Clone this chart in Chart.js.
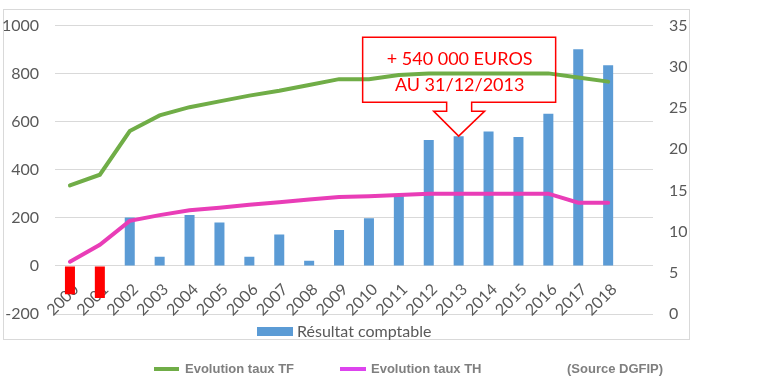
<!DOCTYPE html>
<html>
<head>
<meta charset="utf-8">
<script src="https://cdn.jsdelivr.net/npm/chart.js@4.4.1/dist/chart.umd.min.js"></script>
<style>
  body { margin: 0; background: #fff; }
  #wrap { position: relative; width: 773px; height: 387px; overflow: hidden; }
  #frame { position: absolute; left: 3px; top: 9px; width: 685px; height: 329px; border: 1px solid #d9d9d9; }
  canvas { position: absolute; left: 0; top: 0; }
  .leg { position: absolute; font-family: "Liberation Sans", Arial, sans-serif; font-weight: bold; font-size: 13px; color: #7f7f7f; white-space: nowrap; }
  .sw { position: absolute; height: 4px; }
  #barLeg { position: absolute; left: 257px; top: 327px; width: 36px; height: 9px; background: #5b9bd5; }
  #barTxt { position: absolute; left: 297px; top: 321px; font-family: Lato, sans-serif; font-size: 16px; color: #595959; white-space: nowrap; }
</style>
</head>
<body>
<div id="wrap">
  <div id="frame"></div>
  <canvas id="chart" width="773" height="387"></canvas>
  <div id="barLeg"></div>
  <div id="barTxt">Résultat comptable</div>
  <div class="sw" style="left:154px;top:367px;width:25px;background:#70ad47"></div>
  <div class="leg" style="left:185px;top:361px">Evolution taux TF</div>
  <div class="sw" style="left:340px;top:367px;width:26px;background:#dd44ee"></div>
  <div class="leg" style="left:371px;top:361px">Evolution taux TH</div>
  <div class="leg" style="left:567px;top:361px">(Source DGFIP)</div>
</div>
<script>
'use strict';

// annees (la derniere categorie est vide dans le graphique d'origine)
let years = ['2000', '2001', '2002', '2003', '2004', '2005', '2006', '2007', '2008', '2009',
    '2010', '2011', '2012', '2013', '2014', '2015', '2016', '2017', '2018', ''];

// resultat comptable (milliers d'euros, axe de gauche)
let resultat = [-118, -133, 202, 38, 212, 181, 38, 131, 22, 149,
    198, 290, 524, 540, 559, 536, 633, 902, 835];

// taux (axe de droite)
let tauxTF = [15.6, 16.9, 22.2, 24.1, 25.1, 25.8, 26.5, 27.1, 27.8, 28.5,
    28.5, 29.0, 29.2, 29.2, 29.2, 29.2, 29.2, 28.7, 28.2];
let tauxTH = [6.35, 8.4, 11.3, 12.0, 12.6, 12.9, 13.25, 13.55, 13.9, 14.2,
    14.3, 14.45, 14.6, 14.6, 14.6, 14.6, 14.6, 13.5, 13.5];

let calloutIndex = 13;
let calloutLines = ['+ 540 000 EUROS', 'AU 31/12/2013'];

const callout = {
    id: 'callout',
    afterDatasetsDraw(chart) {
        let bar = chart.getDatasetMeta(2).data[calloutIndex];
        if (!bar) return;
        let tx = bar.x, ty = bar.y;
        let ctx = chart.ctx;
        ctx.save();
        ctx.strokeStyle = '#ff0000';
        ctx.lineWidth = 1.5;
        ctx.beginPath();
        ctx.moveTo(tx - 96, ty - 99);
        ctx.lineTo(tx + 97, ty - 99);
        ctx.lineTo(tx + 97, ty - 34);
        ctx.lineTo(tx + 13, ty - 34);
        ctx.lineTo(tx + 13, ty - 25);
        ctx.lineTo(tx + 26, ty - 25);
        ctx.lineTo(tx, ty);
        ctx.lineTo(tx - 25, ty - 25);
        ctx.lineTo(tx - 12, ty - 25);
        ctx.lineTo(tx - 12, ty - 34);
        ctx.lineTo(tx - 96, ty - 34);
        ctx.closePath();
        ctx.stroke();
        ctx.fillStyle = '#ff0000';
        ctx.font = '18px Lato';
        ctx.textAlign = 'center';
        ctx.textBaseline = 'middle';
        ctx.fillText(calloutLines[0], tx + 1, ty - 77);
        ctx.fillText(calloutLines[1], tx + 1, ty - 51);
        ctx.restore();
    }
};

let tickFont = {family: 'Lato', size: 16};

new Chart(document.querySelector('#chart'), {
    type: 'bar',
    data: {
        labels: years,
        datasets: [
            {
                type: 'line',
                label: 'Evolution taux TF',
                data: tauxTF,
                yAxisID: 'y1',
                borderColor: '#70ad47',
                borderWidth: 4,
                borderCapStyle: 'round',
                pointRadius: 0,
                tension: 0,
                order: 0
            },
            {
                type: 'line',
                label: 'Evolution taux TH',
                data: tauxTH,
                yAxisID: 'y1',
                borderColor: '#e93db7',
                borderWidth: 4,
                borderCapStyle: 'round',
                pointRadius: 0,
                tension: 0,
                order: 0
            },
            {
                label: 'Résultat comptable',
                data: resultat,
                yAxisID: 'y',
                backgroundColor: resultat.map(v => v < 0 ? '#ff0000' : '#5b9bd5'),
                categoryPercentage: 1,
                barPercentage: 0.335,
                order: 1
            }
        ]
    },
    options: {
        responsive: false,
        animation: false,
        devicePixelRatio: 1,
        layout: {padding: {top: 20, bottom: 73, left: 0, right: 0}},
        plugins: {legend: {display: false}, tooltip: {enabled: false}},
        scales: {
            x: {
                position: {y: 0},
                grid: {display: false},
                border: {display: false},
                ticks: {
                    color: '#595959',
                    font: tickFont,
                    minRotation: 45,
                    maxRotation: 45,
                    autoSkip: false,
                    padding: 6,
                    labelOffset: 6
                }
            },
            y: {
                position: 'left',
                min: -200,
                max: 1000,
                grid: {color: '#d9d9d9', drawTicks: false},
                border: {display: false},
                ticks: {stepSize: 200, color: '#595959', font: tickFont, padding: 16, callback: v => String(v)},
                afterFit(scale) { scale.width = 55; }
            },
            y1: {
                position: 'right',
                min: 0,
                max: 35,
                grid: {display: false, drawTicks: false},
                border: {display: false},
                ticks: {stepSize: 5, color: '#595959', font: tickFont, padding: 16},
                afterFit(scale) { scale.width = 120; }
            }
        }
    },
    plugins: [callout]
});
</script>
</body>
</html>
